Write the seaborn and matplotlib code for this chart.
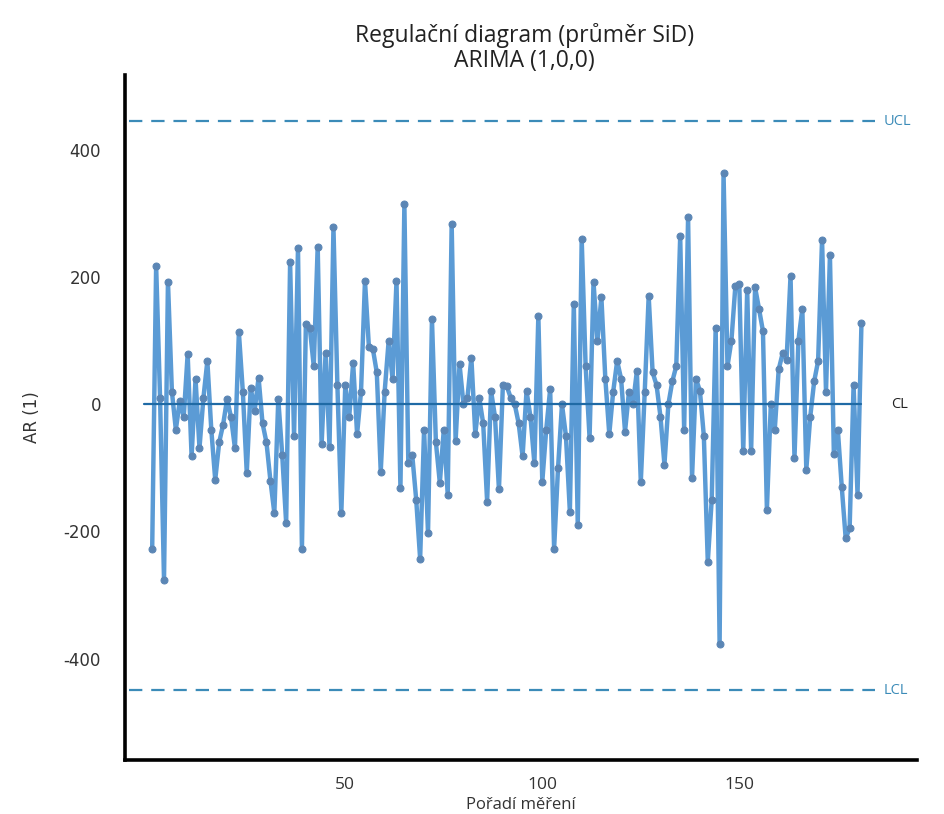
import matplotlib
matplotlib.use("Agg")
import numpy as np
import pandas as pd
import matplotlib.pyplot as plt
import seaborn as sns

# Values (residuals, ARIMA(1,0,0))
values = [
    -227, 218, 10, -276, 193, 20, -40, 5, -20, 79,
    -82, 40, -69, 10, 68, -40, -119, -60, -32, 8,
    -20, -69, 113, 20, -108, 26, -10, 42, -30, -60,
    -120, -171, 8, -80, -187, 223, -50, 245, -227, 126,
    120, 60, 248, -63, 80, -67, 278, 30, -171, 30,
    -20, 65, -47, 20, 194, 90, 87, 50, -106, 20,
    99, 40, 194, -132, 315, -93, -80, -150, -243, -40,
    -203, 134, -60, -124, -40, -142, 284, -58, 63, 0,
    10, 73, -47, 10, -30, -153, 21, -20, -134, 30,
    28, 10, 0, -30, -82, 21, -20, -93, 139, -122,
    -40, 24, -227, -100, 0, -50, -169, 158, -190, 260,
    60, -53, 192, 100, 168, 40, -47, 20, 68, 40,
    -43, 20, 0, 52, -122, 20, 170, 50, 30, -20,
    -95, 0, 36, 60, 264, -40, 294, -116, 40, 21,
    -50, -248, -150, 120, -377, 363, 60, 100, 186, 189,
    -74, 180, -74, 184, 150, 115, -166, 0, -40, 55,
    80, 70, 202, -85, 100, 150, -103, -20, 36, 68,
    259, 20, 234, -79, -40, -130, -211, -195, 30, -142,
    128,
]
order = list(range(1, len(values) + 1))

cl = 0
ucl = 445
lcl = -450

df = pd.DataFrame({"order": order, "value": values})

sns.set_style("white")
plt.rcParams["axes.unicode_minus"] = False

fig = plt.figure(figsize=(9.44, 8.14), dpi=100)
ax = fig.add_axes([0.132, 0.066, 0.839, 0.842])

sns.lineplot(data=df, x="order", y="value", ax=ax, color="#5b9bd5",
             linewidth=3.2, marker="o", markersize=5,
             markerfacecolor="#5b86b5", markeredgecolor="#5b86b5")

# control lines
ax.plot([-1, 181], [cl, cl], color="#1f6aa5", linewidth=1.6)
ax.plot([-5, 184.5], [ucl, ucl], color="#3b8bb8", linewidth=1.6, linestyle=(0, (6, 4)))
ax.plot([-5, 184.5], [lcl, lcl], color="#3b8bb8", linewidth=1.6, linestyle=(0, (6, 4)))

ax.text(186.5, ucl, "UCL", color="#3b8bb8", fontsize=10.5, va="center", ha="left",
        family=["Open Sans", "DejaVu Sans"])
ax.text(188.5, cl, "CL", color="#222222", fontsize=10.5, va="center", ha="left",
        family=["Open Sans", "DejaVu Sans"])
ax.text(186.5, lcl, "LCL", color="#3b8bb8", fontsize=10.5, va="center", ha="left",
        family=["Open Sans", "DejaVu Sans"])

ax.set_xlim(-6, 195)
ax.set_ylim(-560, 518)
ax.set_xticks([50, 100, 150])
ax.set_yticks([-400, -200, 0, 200, 400])

for s in ["top", "right"]:
    ax.spines[s].set_visible(False)
for s in ["left", "bottom"]:
    ax.spines[s].set_linewidth(2.6)
    ax.spines[s].set_color("black")

ax.tick_params(axis="both", direction="out", length=7, width=2.4, color="black")
ax.tick_params(axis="y", labelsize=12, pad=10, labelcolor="#333333")
ax.tick_params(axis="x", labelsize=12.5, pad=5, labelcolor="#333333")
for lab in ax.get_xticklabels():
    lab.set_family(["Open Sans", "DejaVu Sans"])

ax.set_xlabel("Pořadí měření", fontsize=12, family=["Open Sans", "DejaVu Sans"],
              labelpad=3, color="#333333")
ax.set_ylabel("AR (1)", fontsize=12, family=["Liberation Sans Narrow", "DejaVu Sans"],
              labelpad=16, color="#333333")

fig.text(0.556, 0.941, "Regulační diagram (průměr SiD)\nARIMA (1,0,0)",
         ha="center", va="center", fontsize=16.5, linespacing=1.05,
         family=["Open Sans", "DejaVu Sans"], color="#222222")

plt.savefig("out.png", dpi=100)
